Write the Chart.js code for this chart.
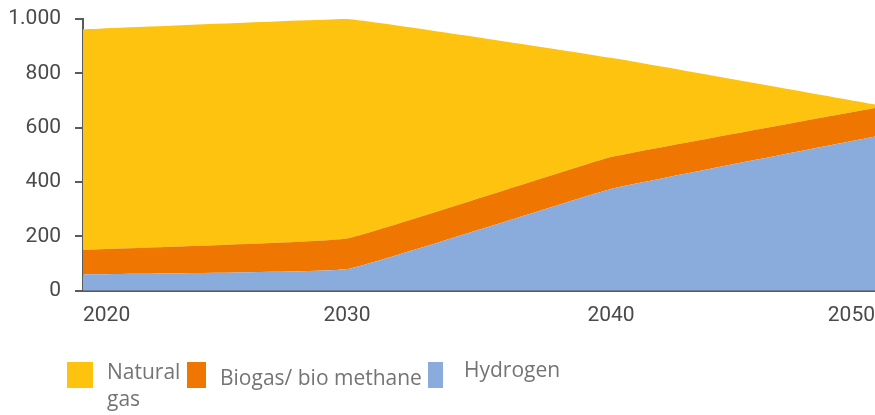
<!DOCTYPE html>
<html lang="en">

<head>
    <meta charset="UTF-8">
    <title>Gas demand</title>
    <script src="https://cdn.jsdelivr.net/npm/chart.js"></script>
</head>
<style>
    body {
        margin: 0;
        background: #fff;
    }

    .chart-container {
        position: relative;
        width: 875px;
        height: 328px;
    }

    .legend {
        position: absolute;
        left: 0;
        top: 0;
        width: 875px;
        height: 415px;
        pointer-events: none;
        font-family: 'Open Sans', sans-serif;
        font-size: 21px;
        color: #747474;
    }

    .legend .box {
        position: absolute;
        top: 362px;
        height: 26px;
    }

    .legend .txt {
        position: absolute;
        line-height: 27px;
    }
</style>

<body>
    <div class="chart-container">
        <canvas id="gasChart"></canvas>
    </div>
    <div class="legend">
        <div class="box" id="box0" style="left:67px;width:26px"></div>
        <div class="txt" id="txt0" style="left:107px;top:358px;width:75px"></div>
        <div class="box" id="box1" style="left:187px;width:19px"></div>
        <div class="txt" id="txt1" style="left:220px;top:364px"></div>
        <div class="box" id="box2" style="left:428px;width:15px"></div>
        <div class="txt" id="txt2" style="left:464px;top:356px"></div>
    </div>
    <script>
        const years = ['2020', '2030', '2040', '2050'];
        const hydrogen = [60, 80, 375, 568];
        const biogas = [90, 112, 117, 105];
        const naturalGas = [812, 808, 365, 12];
        const yTicks = [0, 200, 400, 600, 800, 1000];

        const seriesNames = ['Natural gas', 'Biogas/ bio methane', 'Hydrogen'];
        const seriesColors = ['#fdc30f', '#ee7601', '#8aacdd'];

        // legend under the chart
        seriesNames.forEach((name, i) => {
            document.getElementById('box' + i).style.background = seriesColors[i];
            document.getElementById('txt' + i).textContent = name;
        });

        Chart.defaults.font.family = "Roboto, sans-serif";
        Chart.defaults.color = '#4a4a4a';

        const ctx = document.getElementById('gasChart').getContext('2d');
        new Chart(ctx, {
            type: 'line',
            data: {
                labels: years,
                datasets: [{
                    label: seriesNames[2],
                    data: hydrogen,
                    backgroundColor: seriesColors[2],
                    fill: 'origin'
                }, {
                    label: seriesNames[1],
                    data: biogas,
                    backgroundColor: seriesColors[1],
                    fill: '-1'
                }, {
                    label: seriesNames[0],
                    data: naturalGas,
                    backgroundColor: seriesColors[0],
                    fill: '-1'
                }]
            },
            options: {
                responsive: true,
                maintainAspectRatio: false,
                animation: false,
                locale: 'de-DE',
                layout: {
                    padding: { top: 19, right: 0, bottom: 0, left: 0 }
                },
                elements: {
                    line: { borderWidth: 0, tension: 0.08 },
                    point: { radius: 0 }
                },
                plugins: {
                    legend: { display: false },
                    tooltip: { enabled: false }
                },
                scales: {
                    x: {
                        offset: false,
                        grid: {
                            drawOnChartArea: false,
                            drawTicks: true,
                            tickLength: 12,
                            color: 'rgba(0,0,0,0)'
                        },
                        border: { display: true, color: '#5a5a5a', width: 2 },
                        ticks: {
                            align: 'inner',
                            padding: 0,
                            font: { size: 21 }
                        }
                    },
                    y: {
                        stacked: true,
                        min: 0,
                        max: 1000,
                        // fixed axis width, and let the top label hang over the padding
                        afterFit: scale => {
                            scale.width = 83;
                            scale.paddingTop = 0;
                            scale.paddingBottom = 0;
                        },
                        afterBuildTicks: scale => {
                            scale.ticks = yTicks.map(v => ({ value: v }));
                        },
                        grid: {
                            drawOnChartArea: false,
                            tickLength: 8,
                            color: '#5a5a5a',
                            lineWidth: 2
                        },
                        border: { display: true, color: '#5a5a5a', width: 2 },
                        ticks: {
                            padding: 14,
                            font: { size: 21 }
                        }
                    }
                }
            }
        });
    </script>
</body>

</html>
